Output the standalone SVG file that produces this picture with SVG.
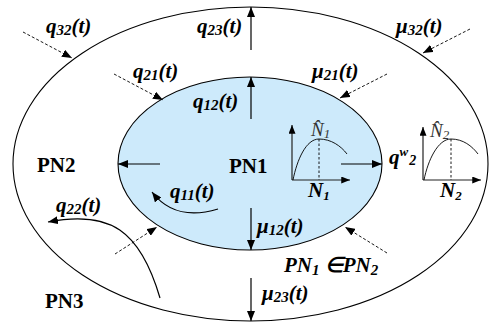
<svg xmlns="http://www.w3.org/2000/svg" width="493" height="324" viewBox="0 0 493 324">
<defs>
<marker id="ah" viewBox="0 0 10 8" refX="10" refY="4" markerWidth="10" markerHeight="8" markerUnits="userSpaceOnUse" orient="auto">
<path d="M0,0 L10,4 L0,8 Z" fill="#000"/>
</marker>
<marker id="ahs" viewBox="0 0 10 8" refX="10" refY="4" markerWidth="9" markerHeight="7" markerUnits="userSpaceOnUse" orient="auto">
<path d="M0,0 L10,4 L0,8 Z" fill="#000"/>
</marker>
<style>
.bd{fill:none;stroke:#000;stroke-width:1.1}
.ar{fill:none;stroke:#000;stroke-width:1.2;marker-end:url(#ah)}
.da{fill:none;stroke:#000;stroke-width:0.9;stroke-dasharray:3,2;marker-end:url(#ah)}
.axa{fill:none;stroke:#222;stroke-width:1.2;marker-end:url(#ahs)}
.cv{fill:none;stroke:#000;stroke-width:0.9}
.dv{fill:none;stroke:#000;stroke-width:0.9;stroke-dasharray:2.5,2}
.pn{font-family:"Liberation Serif","Times New Roman",serif;font-weight:bold;font-size:21px;fill:#000}
.fl{font-family:"Liberation Serif","Times New Roman",serif;font-weight:bold;font-style:italic;font-size:21px;fill:#000}
.nh{font-family:"Liberation Serif","Times New Roman",serif;font-style:italic;font-size:19px;fill:#333}
.sb{font-size:15px}
</style>
</defs>
<g id="pn2">
<ellipse cx="250.5" cy="164" rx="237.5" ry="157" fill="#fff" class="bd"/>
<text class="pn" x="37" y="172">PN2</text>
</g>
<g id="pn1">
<ellipse cx="250" cy="163.5" rx="132" ry="86.5" fill="#cdeafb" stroke="#000" stroke-width="1.1"/>
<text class="pn" x="229" y="173">PN1</text>
</g>
<g id="pn3">
<text class="pn" x="45" y="308">PN3</text>
</g>
<g id="graph1">
<path class="axa" d="M292,180 L292,125"/>
<path class="axa" d="M292,180 L350,180"/>
<path class="cv" d="M293,180 C297,160 306,139 319,139 C331,139 341,146 347,154"/>
<path class="dv" d="M319,139 L319,180"/>
<text class="nh" x="311" y="136">N̂<tspan font-size="13" dy="2">1</tspan></text>
<text class="fl" x="308" y="197" font-size="18">N<tspan font-size="13" dy="3">1</tspan></text>
</g>
<g id="graph2">
<path class="axa" d="M423,180 L423,127"/>
<path class="axa" d="M423,180 L481,180"/>
<path class="cv" d="M424,180 C428,160 438,139 451,139 C463,139 472,146 478,154"/>
<path class="dv" d="M451,139 L451,180"/>
<text class="nh" x="430" y="137">N̂<tspan font-size="13" dy="2">2</tspan></text>
<text class="fl" x="389" y="164" font-size="19">q<tspan font-size="13" dy="-8">w</tspan><tspan font-size="14" dx="1" dy="9">2</tspan></text>
<text class="fl" x="440" y="197" font-size="18">N<tspan font-size="13" dy="3">2</tspan></text>
</g>
<g id="connectors">
<path class="ar" d="M251,50 L251,7"/>
<path class="ar" d="M251,119 L251,77"/>
<path class="ar" d="M251,208 L251,250"/>
<path class="ar" d="M251,278 L251,321"/>
<path class="ar" d="M160,164 L118,164"/>
<path class="ar" d="M341,164 L382,164"/>
<path class="da" d="M23,32 L72,58"/>
<path class="da" d="M114,74 L163,100"/>
<path class="da" d="M470,29 L423,53"/>
<path class="da" d="M387,74 L340,98"/>
<path class="da" d="M115,254 L157,227"/>
<path class="da" d="M387,253 L345,227"/>
<path class="ar" d="M218,209 Q175,222 152,192"/>
<path class="ar" d="M160,298 C140,230 110,210 48,222"/>
<text class="fl" x="46" y="33">q<tspan class="sb" dy="2">32</tspan><tspan dy="-2">(t)</tspan></text>
<text class="fl" x="197" y="33">q<tspan class="sb" dy="2">23</tspan><tspan dy="-2">(t)</tspan></text>
<text class="fl" x="396" y="33">μ<tspan class="sb" dy="2">32</tspan><tspan dy="-2">(t)</tspan></text>
<text class="fl" x="133" y="78">q<tspan class="sb" dy="2">21</tspan><tspan dy="-2">(t)</tspan></text>
<text class="fl" x="312" y="78">μ<tspan class="sb" dy="2">21</tspan><tspan dy="-2">(t)</tspan></text>
<text class="fl" x="193" y="108">q<tspan class="sb" dy="2">12</tspan><tspan dy="-2">(t)</tspan></text>
<text class="fl" x="170" y="198">q<tspan class="sb" dy="2">11</tspan><tspan dy="-2">(t)</tspan></text>
<text class="fl" x="56" y="212">q<tspan class="sb" dy="2">22</tspan><tspan dy="-2">(t)</tspan></text>
<text class="fl" x="257" y="233">μ<tspan class="sb" dy="2">12</tspan><tspan dy="-2">(t)</tspan></text>
<text class="fl" x="262" y="300">μ<tspan class="sb" dy="2">23</tspan><tspan dy="-2">(t)</tspan></text>
<text class="fl" x="284" y="272">PN<tspan class="sb" dy="3">1</tspan><tspan dy="-3"> ∈PN</tspan><tspan class="sb" dy="3">2</tspan></text>
</g>
</svg>
